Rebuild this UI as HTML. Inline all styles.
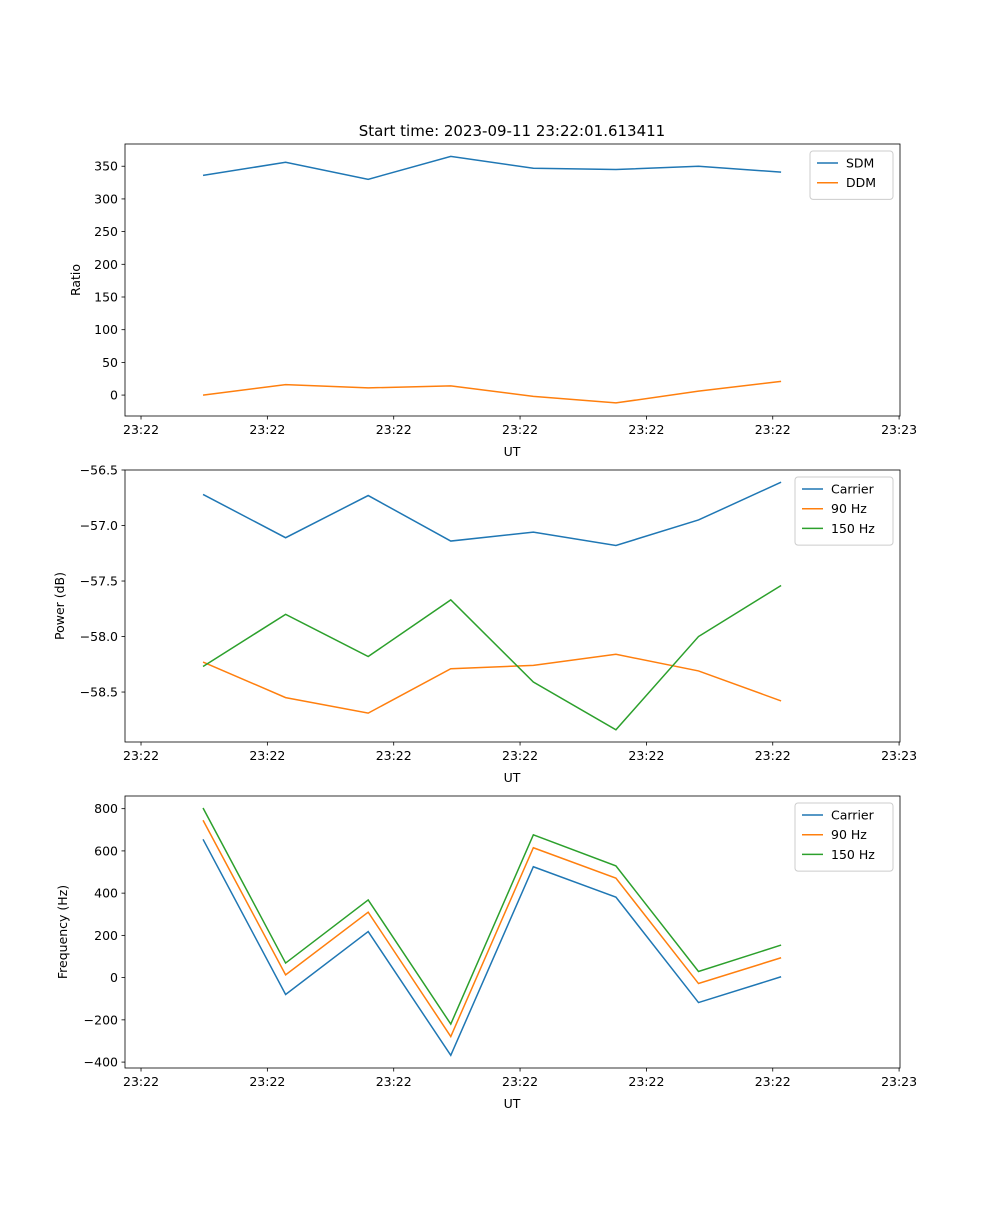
<!DOCTYPE html>
<html><head><meta charset="utf-8"><style>
body{margin:0;background:#fff;}
svg text{font-family:"DejaVu Sans","Liberation Sans",sans-serif;fill:#000;}
</style></head><body>
<svg id="fig" width="1000" height="1200" xmlns="http://www.w3.org/2000/svg">
<rect width="1000" height="1200" fill="#fff"/>
<text x="512" y="136" font-size="15" text-anchor="middle">Start time: 2023-09-11 23:22:01.613411</text>
</svg>
<script>
const xIdx=[0,1,2,3,4,5,6,7];
const xTickLabels=["23:22","23:22","23:22","23:22","23:22","23:22","23:23"];
const sdm=[336,356,330,365,347,345,350,341];
const ddm=[0,16,11,14,-2,-12,6,21];
const pCarrier=[-56.72,-57.11,-56.73,-57.14,-57.06,-57.18,-56.95,-56.61];
const p90=[-58.23,-58.55,-58.69,-58.29,-58.26,-58.16,-58.31,-58.58];
const p150=[-58.27,-57.80,-58.18,-57.67,-58.41,-58.84,-58.0,-57.54];
const fCarrier=[655,-80,218,-368,525,381,-118,4];
const f90=[745,13,310,-279,615,471,-28,94];
const f150=[803,69,368,-220,676,529,29,154];
const ticks1=[0,50,100,150,200,250,300,350];
const ticks2=[-56.5,-57.0,-57.5,-58.0,-58.5];
const ticks3=[-400,-200,0,200,400,600,800];
const C=["#1f77b4","#ff7f0e","#2ca02c"];
const NS="http://www.w3.org/2000/svg";
const svg=document.getElementById('fig');
function mk(t,a,p){const e=document.createElementNS(NS,t);for(const k in a)e.setAttribute(k,a[k]);(p||svg).appendChild(e);return e;}
const L=125,R=900,xmin=-0.945,xmax=8.44;
const X=v=>L+(v-xmin)/(xmax-xmin)*(R-L);
function panel(top,bot,ymin,ymax,yt,fmt,ylabel,series,names,legW,name){
  const Y=v=>bot-(v-ymin)/(ymax-ymin)*(bot-top);
  const g=mk('g',{});
  
  
  series.forEach((s,si)=>{
    const pl=mk('polyline',{points:s.map((v,i)=>X(xIdx[i])+','+Y(v)).join(' '),fill:'none',stroke:C[si],'stroke-width':1.5},g);
    
    
  });
  const fr=mk('rect',{x:L,y:top,width:R-L,height:bot-top,fill:'none',stroke:'#000','stroke-width':0.8},g);
  
  
  yt.forEach(v=>{const y=Y(v);mk('line',{x1:L-3.5,x2:L,y1:y,y2:y,stroke:'#000','stroke-width':0.8},g);
    const t=mk('text',{x:L-7,y:y+4.5,'font-size':12.5,'text-anchor':'end'},g);t.textContent=fmt(v).replace('-','\u2212');
    
    });
  xTickLabels.forEach((lb,i)=>{const x=X(-0.751+1.53*i);mk('line',{x1:x,x2:x,y1:bot,y2:bot+3.5,stroke:'#000','stroke-width':0.8},g);
    const t=mk('text',{x:x,y:bot+18,'font-size':12.5,'text-anchor':'middle'},g);t.textContent=lb;
    
    });
  const xl=mk('text',{x:512,y:bot+40,'font-size':12.5,'text-anchor':'middle'},g);xl.textContent='UT';
  
  
  const yl=mk('text',{x:0,y:0,'font-size':12.5,'text-anchor':'middle',transform:`translate(${ylabel[1]},${(top+bot)/2}) rotate(-90)`},g);yl.textContent=ylabel[0];
  
  
  const lx=893-legW,ly=top+7,lh=9+names.length*19.7;
  const lg=mk('g',{},g);
  
  
  mk('rect',{x:lx,y:ly,width:legW,height:lh,rx:3,fill:'#fff','fill-opacity':0.8,stroke:'#ccc','stroke-width':1},lg);
  names.forEach((n,i)=>{const yy=ly+12+i*19.7;
    mk('line',{x1:lx+7,x2:lx+28,y1:yy,y2:yy,stroke:C[i],'stroke-width':1.5},lg);
    const t=mk('text',{x:lx+36,y:yy+4.5,'font-size':12.5},lg);t.textContent=n;
    
    });
}
panel(144,416,-32,384,ticks1,v=>String(v),['Ratio',80],[sdm,ddm],['SDM','DDM'],83,'ratio-panel');
panel(470,742,-58.95,-56.5,ticks2,v=>v.toFixed(1),['Power (dB)',64],[pCarrier,p90,p150],['Carrier','90 Hz','150 Hz'],98,'power-panel');
panel(796,1068,-428,860,ticks3,v=>String(v),['Frequency (Hz)',67],[fCarrier,f90,f150],['Carrier','90 Hz','150 Hz'],98,'frequency-panel');
</script>
</body></html>
